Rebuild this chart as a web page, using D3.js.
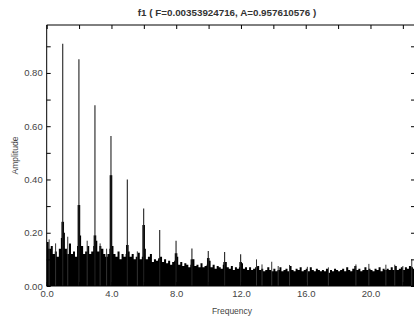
<!DOCTYPE html>
<html>
<head>
<meta charset="utf-8">
<script src="https://cdn.jsdelivr.net/npm/d3@7"></script>
<style>
  html, body { margin: 0; padding: 0; background: #fff; }
  svg { display: block; }
  text { font-family: "Liberation Sans", Arial, sans-serif; }
</style>
</head>
<body>
<svg id="chart" width="414" height="324"></svg>
<script>
// ---------- data ----------
const titleText = "f1 ( F=0.00353924716, A=0.957610576 )";
const xLabel = "Frequency";
const yLabel = "Amplitude";

const xTickValues = [0, 4, 8, 12, 16, 20];
const xTickLabels = ["0.0", "4.0", "8.0", "12.0", "16.0", "20.0"];
const yTickValues = [0, 0.2, 0.4, 0.6, 0.8];
const yTickLabels = ["0.00", "0.20", "0.40", "0.60", "0.80"];

// main harmonic peaks (thin lines)
const peakFreq = [0.99, 1.99, 2.98, 3.97, 4.98, 5.99, 6.98, 7.99, 8.97, 9.98, 10.99, 11.98];
const peakAmp  = [0.910, 0.851, 0.679, 0.563, 0.400, 0.291, 0.210, 0.170, 0.141, 0.131, 0.128, 0.119];

// broader core under each harmonic
const coreAmp  = [0.241, 0.304, 0.190, 0.416, 0.154, 0.229, 0.105, 0.123, 0.100, 0.105, 0.090, 0.090];

// isolated thin spikes in the noise
const spikeFreq = [0.15, 0.55, 1.30, 2.50, 3.30, 3.70, 5.60, 12.96, 13.30, 13.90, 14.30, 15.00, 16.10, 17.40, 19.10, 19.90, 20.95, 21.50, 22.00, 22.55];
const spikeAmp  = [0.175, 0.160, 0.185, 0.170, 0.160, 0.140, 0.130, 0.100, 0.081, 0.091, 0.075, 0.079, 0.072, 0.070, 0.081, 0.083, 0.080, 0.080, 0.075, 0.100];

// noise floor, one value every 0.125 in frequency, starting at 0
const noiseStep = 0.125;
const noiseAmp = [
  0.165, 0.140, 0.150, 0.120, 0.130, 0.110, 0.140, 0.180,
  0.200, 0.140, 0.120, 0.160, 0.120, 0.130, 0.110, 0.150,
  0.190, 0.150, 0.120, 0.130, 0.150, 0.120, 0.130, 0.150,
  0.170, 0.130, 0.150, 0.140, 0.120, 0.110, 0.120, 0.140,
  0.150, 0.120, 0.110, 0.130, 0.100, 0.120, 0.110, 0.120,
  0.130, 0.110, 0.120, 0.100, 0.110, 0.125, 0.100, 0.110,
  0.140, 0.100, 0.110, 0.120, 0.090, 0.100, 0.095, 0.100,
  0.110, 0.090, 0.100, 0.085, 0.095, 0.080, 0.090, 0.095,
  0.110, 0.080, 0.090, 0.075, 0.085, 0.080, 0.070, 0.080,
  0.100, 0.075, 0.080, 0.070, 0.085, 0.070, 0.075, 0.080,
  0.095, 0.070, 0.080, 0.065, 0.075, 0.070, 0.065, 0.080,
  0.090, 0.070, 0.065, 0.075, 0.060, 0.070, 0.065, 0.070,
  0.085, 0.065, 0.070, 0.060, 0.070, 0.060, 0.065, 0.070,
  0.075, 0.060, 0.065, 0.055, 0.060, 0.070, 0.060, 0.055,
  0.065, 0.055, 0.060, 0.070, 0.055, 0.060, 0.065, 0.055,
  0.075, 0.060, 0.055, 0.065, 0.060, 0.070, 0.055, 0.060,
  0.065, 0.055, 0.070, 0.060, 0.055, 0.065, 0.060, 0.055,
  0.060, 0.055, 0.065, 0.050, 0.060, 0.055, 0.065, 0.060,
  0.055, 0.060, 0.065, 0.055, 0.070, 0.060, 0.055, 0.065,
  0.075, 0.060, 0.065, 0.055, 0.060, 0.070, 0.060, 0.065,
  0.060, 0.055, 0.065, 0.060, 0.070, 0.055, 0.065, 0.060,
  0.065, 0.060, 0.070, 0.060, 0.075, 0.060, 0.065, 0.070,
  0.060, 0.070, 0.065, 0.075, 0.070, 0.065
];

// ---------- layout ----------
const svg = d3.select("#chart");
const mLeft = 46.7, mRight = 415, mTop = 25, mBottom = 286;

const x = d3.scaleLinear().domain([0, 22.75]).range([mLeft, mRight]);
const y = d3.scaleLinear().domain([0, 0.98]).range([mBottom, mTop]);

const plot = svg.append("g");
plot.append("clipPath").attr("id", "clip")
  .append("rect").attr("x", mLeft).attr("y", mTop).attr("width", mRight - mLeft).attr("height", mBottom - mTop);
const g = plot.append("g").attr("clip-path", "url(#clip)");

// noise floor as one stepped area (no seams)
const noiseData = noiseAmp.map((a, i) => ({ f: i * noiseStep, a }));
noiseData.push({ f: noiseAmp.length * noiseStep, a: noiseAmp[noiseAmp.length - 1] });
const area = d3.area().curve(d3.curveStepAfter)
  .x(d => x(d.f)).y0(y(0)).y1(d => y(d.a));
g.append("path").datum(noiseData).attr("d", area).attr("fill", "#000");

// thin isolated spikes
g.selectAll("line.spike").data(spikeFreq.map((f, i) => ({ f, a: spikeAmp[i] }))).enter().append("line")
  .attr("class", "spike")
  .attr("x1", d => x(d.f)).attr("x2", d => x(d.f))
  .attr("y1", y(0)).attr("y2", d => y(d.a))
  .attr("stroke", "#333").attr("stroke-width", 1);

// harmonic cores
g.selectAll("rect.core").data(peakFreq.map((f, i) => ({ f, a: coreAmp[i] }))).enter().append("rect")
  .attr("class", "core")
  .attr("x", d => x(d.f) - 1.3)
  .attr("width", 2.6)
  .attr("y", d => y(d.a))
  .attr("height", d => y(0) - y(d.a))
  .attr("fill", "#000");

// harmonic peaks
g.selectAll("line.peak").data(peakFreq.map((f, i) => ({ f, a: peakAmp[i] }))).enter().append("line")
  .attr("class", "peak")
  .attr("x1", d => x(d.f)).attr("x2", d => x(d.f))
  .attr("y1", y(0)).attr("y2", d => y(d.a))
  .attr("stroke", "#222").attr("stroke-width", 1.1);

// ---------- axes ----------
const axisColor = "#000";
const textColor = "#444";

// frame lines
svg.append("line").attr("x1", mLeft).attr("x2", mRight).attr("y1", mTop).attr("y2", mTop).attr("stroke", axisColor);
svg.append("line").attr("x1", mLeft).attr("x2", mRight).attr("y1", mBottom).attr("y2", mBottom).attr("stroke", axisColor);
svg.append("line").attr("x1", mLeft).attr("x2", mLeft).attr("y1", mTop).attr("y2", mBottom).attr("stroke", axisColor);
svg.append("line").attr("x1", mRight).attr("x2", mRight).attr("y1", mTop).attr("y2", mBottom).attr("stroke", axisColor);

const xTicksAll = d3.range(0, 23, 2);
const yTicksAll = d3.range(0, 0.95, 0.1);

// top & bottom x ticks (inward)
svg.append("g").attr("transform", `translate(0,${mTop})`)
  .call(d3.axisBottom(x).tickValues(xTicksAll).tickSize(4).tickFormat(""))
  .call(s => s.select(".domain").remove());
svg.append("g").attr("transform", `translate(0,${mBottom})`)
  .call(d3.axisTop(x).tickValues(xTicksAll).tickSize(4).tickFormat(""))
  .call(s => s.select(".domain").remove());
// left & right y ticks (inward)
svg.append("g").attr("transform", `translate(${mLeft},0)`)
  .call(d3.axisRight(y).tickValues(yTicksAll).tickSize(4).tickFormat(""))
  .call(s => s.select(".domain").remove());
svg.append("g").attr("transform", `translate(${mRight},0)`)
  .call(d3.axisLeft(y).tickValues(yTicksAll).tickSize(4).tickFormat(""))
  .call(s => s.select(".domain").remove());
svg.selectAll(".tick line").attr("stroke", axisColor);

// x tick labels
const xl = svg.append("g").attr("transform", `translate(0,${mBottom})`)
  .call(d3.axisBottom(x).tickValues(xTickValues).tickSize(0).tickPadding(4)
    .tickFormat((d, i) => xTickLabels[i]));
xl.select(".domain").remove();
xl.selectAll("text").attr("font-size", "9.5px").attr("fill", textColor)
  .attr("font-family", "Liberation Sans, Arial, sans-serif");

// y tick labels
const yl = svg.append("g").attr("transform", `translate(${mLeft},0)`)
  .call(d3.axisLeft(y).tickValues(yTickValues).tickSize(0).tickPadding(4)
    .tickFormat((d, i) => yTickLabels[i]));
yl.select(".domain").remove();
yl.selectAll("text").attr("font-size", "9.5px").attr("fill", textColor)
  .attr("font-family", "Liberation Sans, Arial, sans-serif");

// title
svg.append("text").attr("x", 227).attr("y", 16).attr("text-anchor", "middle")
  .attr("font-size", "9.8px").attr("font-weight", "bold").attr("fill", "#333")
  .text(titleText);

// axis titles
svg.append("text").attr("x", 232).attr("y", 314).attr("text-anchor", "middle")
  .attr("font-size", "8.5px").attr("fill", textColor).text(xLabel);
svg.append("text").attr("transform", `translate(18,${(mTop + mBottom) / 2}) rotate(-90)`)
  .attr("text-anchor", "middle").attr("font-size", "8.5px").attr("fill", textColor).text(yLabel);
</script>
</body>
</html>
